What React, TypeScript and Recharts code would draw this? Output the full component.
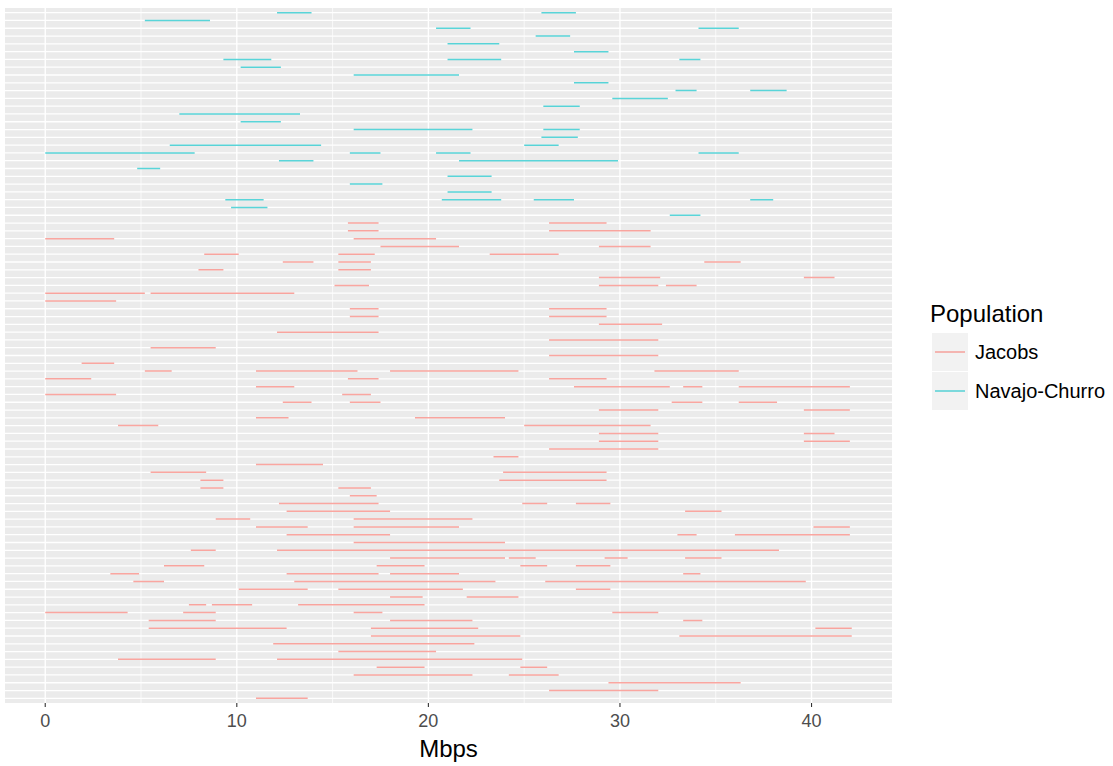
import React from 'react';
import { CartesianGrid, Legend, Line, LineChart, XAxis, YAxis } from 'recharts';

// each row lists its segments as [start, end] in Mbps, top row first
const navajoRows: number[][][] = [
  [[12.1, 13.9], [25.9, 27.7]],
  [[5.2, 8.6]],
  [[20.4, 22.2], [34.1, 36.2]],
  [[25.6, 27.4]],
  [[21.0, 23.7]],
  [[27.6, 29.4]],
  [[9.3, 11.8], [21.0, 23.8], [33.1, 34.2]],
  [[10.2, 12.3]],
  [[16.1, 21.6]],
  [[27.6, 29.4]],
  [[32.9, 34.0], [36.8, 38.7]],
  [[29.6, 32.5]],
  [[26.0, 27.9]],
  [[7.0, 13.3]],
  [[10.2, 12.3]],
  [[16.1, 22.3], [26.0, 27.9]],
  [[25.9, 27.8]],
  [[6.5, 14.4], [25.0, 26.8]],
  [[0, 7.8], [15.9, 17.5], [20.4, 22.2], [34.1, 36.2]],
  [[12.2, 14.0], [21.6, 29.9]],
  [[4.8, 6.0]],
  [[21.0, 23.3]],
  [[15.9, 17.6]],
  [[21.0, 23.3]],
  [[9.4, 11.4], [20.7, 23.8], [25.5, 27.6], [36.8, 38.0]],
  [[9.7, 11.6]],
  [[32.6, 34.2]],
];

const jacobsRows: number[][][] = [
  [[15.8, 17.4], [26.3, 29.3]],
  [[15.8, 17.4], [26.3, 31.6]],
  [[0, 3.6], [16.1, 20.4]],
  [[17.5, 21.6], [28.9, 31.6]],
  [[8.3, 10.1], [15.3, 17.2], [23.2, 26.8]],
  [[12.4, 14.0], [15.3, 17.0], [34.4, 36.3]],
  [[8.0, 9.3], [15.3, 17.0]],
  [[28.9, 32.1], [39.6, 41.2]],
  [[15.1, 16.9], [28.9, 32.0], [32.4, 34.0]],
  [[0, 5.2], [5.5, 13.0]],
  [[0, 3.7]],
  [[15.9, 17.4], [26.3, 29.3]],
  [[15.9, 17.4], [26.3, 29.3]],
  [[28.9, 32.2]],
  [[12.1, 17.4]],
  [[26.3, 32.0]],
  [[5.5, 8.9]],
  [[26.3, 32.0]],
  [[1.9, 3.6]],
  [[5.2, 6.6], [11.0, 16.3], [18.0, 24.7], [31.8, 36.2]],
  [[0, 2.4], [15.8, 17.4], [26.3, 29.3]],
  [[11.0, 13.0], [27.6, 32.6], [33.3, 34.3], [36.2, 42.0]],
  [[0, 3.7], [15.5, 17.0]],
  [[12.4, 13.9], [15.9, 17.5], [32.7, 34.3], [36.2, 38.2]],
  [[28.9, 32.0], [39.6, 42.0]],
  [[11.0, 12.7], [19.3, 24.0]],
  [[3.8, 5.9], [25.0, 31.6]],
  [[28.9, 32.0], [39.6, 41.2]],
  [[28.9, 32.0], [39.6, 42.0]],
  [[26.3, 32.0]],
  [[23.4, 24.7]],
  [[11.0, 14.5]],
  [[5.5, 8.4], [23.9, 29.3]],
  [[8.1, 9.3], [23.7, 29.3]],
  [[8.1, 9.3], [15.3, 17.0]],
  [[15.9, 17.3]],
  [[12.2, 17.4], [24.9, 26.2], [27.7, 29.5]],
  [[12.6, 18.0], [33.4, 35.3]],
  [[8.9, 10.7], [16.1, 22.3]],
  [[11.0, 13.7], [16.1, 21.6], [40.1, 42.0]],
  [[12.6, 18.0], [33.0, 34.0], [36.0, 42.0]],
  [[16.1, 24.0]],
  [[7.6, 8.9], [12.1, 38.3]],
  [[18.0, 24.0], [24.2, 25.6], [29.2, 30.4], [33.4, 35.3]],
  [[6.2, 8.3], [17.3, 19.8], [24.8, 26.2], [27.7, 29.5]],
  [[3.4, 4.9], [12.6, 17.4], [18.0, 21.6], [33.3, 34.2]],
  [[4.6, 6.2], [13.0, 23.5], [26.1, 39.7]],
  [[10.1, 13.7], [15.3, 21.8], [27.7, 29.5]],
  [[18.0, 19.7], [22.0, 24.7]],
  [[7.5, 8.4], [8.7, 10.8], [13.2, 19.8]],
  [[0, 4.3], [7.2, 8.9], [16.1, 17.6], [29.6, 32.0]],
  [[5.4, 8.9], [18.0, 22.3], [33.3, 34.3]],
  [[5.4, 12.6], [17.0, 22.6], [40.2, 42.1]],
  [[17.0, 24.8], [33.1, 42.1]],
  [[11.9, 22.4]],
  [[15.3, 20.4]],
  [[3.8, 8.9], [12.1, 24.9]],
  [[17.3, 19.8], [24.8, 26.2]],
  [[16.1, 22.3], [24.2, 26.8]],
  [[29.4, 36.3]],
  [[26.3, 32.0]],
  [[11.0, 13.7]],
];

const xTicks = [0, 5, 10, 15, 20, 25, 30, 35, 40];
const rowCount = navajoRows.length + jacobsRows.length;
const rowTicks = Array.from({ length: rowCount }, (_, i) => i);

const FONT = '"Liberation Sans", Arial, sans-serif';

// turn rows into points, with a null point after each segment so the line breaks
const toPoints = (rows: number[][][], firstRow: number) => {
  const pts: { x: number; row: number | null }[] = [];
  rows.forEach((segs, i) => {
    segs.forEach(([s, e]) => {
      pts.push({ x: s, row: firstRow + i });
      pts.push({ x: e, row: firstRow + i });
      pts.push({ x: e, row: null });
    });
  });
  return pts;
};

const navajoData = toPoints(navajoRows, 0);
const jacobsData = toPoints(jacobsRows, navajoRows.length);

const XTick = ({ x, y, payload }: any) => {
  if (payload.value % 10 !== 0) return <g />;
  return (
    <g>
      <line x1={x} x2={x} y1={y} y2={y + 4} stroke="#333333" strokeWidth={1.1} />
      <text x={x} y={y + 23.5} textAnchor="middle" fill="#4D4D4D" fontSize={18} fontFamily={FONT}>
        {payload.value}
      </text>
    </g>
  );
};

// rows have no labels, but the axis still has to hand its ticks to the grid
const NoTick = () => <g />;

const PopulationLegend = ({ payload }: any) => (
  <svg width={188} height={130} style={{ display: 'block', fontFamily: FONT }}>
    <text x={5} y={31.5} fontSize={24} fill="#000">Population</text>
    {(payload || []).map((entry: any, i: number) => (
      <g key={entry.value} transform={`translate(0, ${43 + i * 39})`}>
        <rect x={7} y={0} width={36} height={38} fill="#F2F2F2" />
        <line x1={10} x2={40} y1={19} y2={19} stroke={entry.color} strokeWidth={1.5} strokeOpacity={0.65} />
        <text x={50} y={19} dy="0.35em" fontSize={20} fill="#000">{entry.value}</text>
      </g>
    ))}
  </svg>
);

export default function App() {
  return (
    <div style={{ position: 'absolute', left: 0, top: 0, width: 1113, height: 766, background: '#fff' }}>
      <LineChart width={1113} height={766} margin={{ top: 8, right: 221, bottom: 0, left: 5 }}>
        <CartesianGrid
          fill="#EBEBEB"
          syncWithTicks
          horizontal={(p: any) => (
            <line key={p.key} x1={p.x1} x2={p.x2} y1={p.y1} y2={p.y2} stroke="#FFFFFF" strokeWidth={1.3} />
          )}
          vertical={(p: any) => (
            <line
              key={p.key}
              x1={p.x1}
              x2={p.x2}
              y1={p.y1}
              y2={p.y2}
              stroke="#FFFFFF"
              strokeWidth={p.index % 2 === 0 ? 1.4 : 0.7}
            />
          )}
        />
        <XAxis
          type="number"
          dataKey="x"
          domain={[-2.1, 44.2]}
          allowDataOverflow
          ticks={xTicks}
          interval={0}
          height={63}
          tickSize={0}
          tickMargin={0}
          tickLine={false}
          axisLine={false}
          tick={<XTick />}
          label={{ value: 'Mbps', position: 'insideBottom', offset: 9.5, fill: '#000', fontSize: 24, fontFamily: FONT }}
        />
        <YAxis
          type="number"
          domain={[-0.6, rowCount - 0.4]}
          allowDataOverflow
          reversed
          ticks={rowTicks}
          interval={0}
          width={0}
          tick={NoTick}
          tickLine={false}
          axisLine={false}
        />
        <Legend
          layout="horizontal"
          verticalAlign="middle"
          align="center"
          wrapperStyle={{ left: 925, top: 290, width: 188, height: 130 }}
          content={<PopulationLegend />}
        />
        <Line
          data={jacobsData}
          dataKey="row"
          name="Jacobs"
          stroke="#F8766D"
          strokeWidth={1.5}
          strokeOpacity={0.65}
          dot={false}
          activeDot={false}
          connectNulls={false}
          isAnimationActive={false}
        />
        <Line
          data={navajoData}
          dataKey="row"
          name="Navajo-Churro"
          stroke="#00BFC4"
          strokeWidth={1.5}
          strokeOpacity={0.65}
          dot={false}
          activeDot={false}
          connectNulls={false}
          isAnimationActive={false}
        />
      </LineChart>
    </div>
  );
}
